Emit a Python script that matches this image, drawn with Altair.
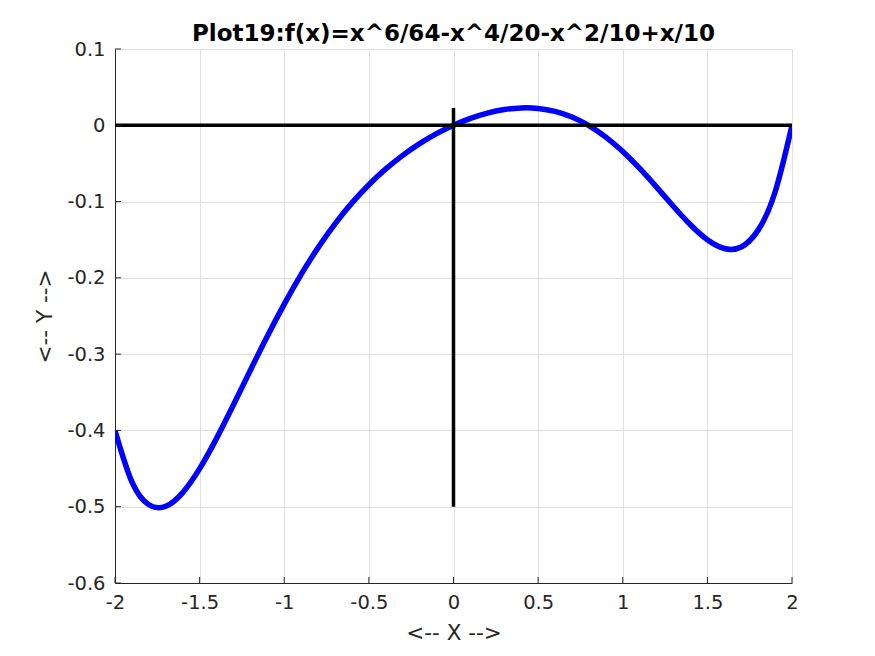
import altair as alt
import pandas as pd

# curve samples (x step 0.1)
xs = [-2.0, -1.9, -1.8, -1.7, -1.6, -1.5, -1.4, -1.3, -1.2, -1.1, -1.0,
      -0.9, -0.8, -0.7, -0.6, -0.5, -0.4, -0.3, -0.2, -0.1, 0.0,
      0.1, 0.2, 0.3, 0.4, 0.5, 0.6, 0.7, 0.8, 0.9, 1.0,
      1.1, 1.2, 1.3, 1.4, 1.5, 1.6, 1.7, 1.8, 1.9, 2.0]
ys = [-0.4, -0.467513, -0.497439, -0.499462, -0.481536, -0.450146, -0.410431,
      -0.366386, -0.321024, -0.276524, -0.234375,
      -0.195501, -0.160384, -0.129167, -0.101751, -0.077881, -0.057216,
      -0.039394, -0.024079, -0.011005, 0.0,
      0.008995, 0.015921, 0.020606, 0.022784, 0.022119, 0.018249, 0.010833,
      -0.000384, -0.015501, -0.034375,
      -0.056524, -0.081024, -0.106386, -0.130431, -0.150146, -0.161536,
      -0.159462, -0.137439, -0.087513, 0.0]

# black reference axes
hx = [-2, 2]
hy = [0, 0]
vx = [0, 0]
vy = [-0.5, 0.0228]

x_ticks = [-2, -1.5, -1, -0.5, 0, 0.5, 1, 1.5, 2]
y_ticks = [-0.6, -0.5, -0.4, -0.3, -0.2, -0.1, 0, 0.1]

W, H = 677, 534

curve = pd.DataFrame({"x": xs, "y": ys})
hline = pd.DataFrame({"x": hx, "y": hy})
vline = pd.DataFrame({"x": vx, "y": vy})
xt = pd.DataFrame({"t": x_ticks})
yt = pd.DataFrame({"t": y_ticks})

label_expr = "datum.value < 0 ? '-' + format(abs(datum.value), '~g') : format(datum.value, '~g')"

xscale = alt.Scale(domain=[-2, 2], nice=False, zero=False)
yscale = alt.Scale(domain=[-0.6, 0.1], nice=False, zero=False)

xaxis = alt.Axis(values=x_ticks, labelExpr=label_expr, title="<-- X -->",
                 grid=True, gridColor="#dfdfdf", gridWidth=1,
                 tickSize=0, labelPadding=10, labelFontSize=19.5,
                 labelColor="#262626", labelFont="DejaVu Sans",
                 titleFont="DejaVu Sans", titleFontSize=21.5, titleFontWeight="normal",
                 titleColor="#262626", titlePadding=11,
                 domainColor="#262626", domainWidth=1, labelFlush=False)
yaxis = alt.Axis(values=y_ticks, labelExpr=label_expr, title="<-- Y -->",
                 grid=True, gridColor="#dfdfdf", gridWidth=1,
                 tickSize=0, labelPadding=10, labelFontSize=19.5,
                 labelColor="#262626", labelFont="DejaVu Sans",
                 titleFont="DejaVu Sans", titleFontSize=21.5, titleFontWeight="normal",
                 titleColor="#262626", titlePadding=10,
                 domainColor="#262626", domainWidth=1, labelFlush=False)

base_curve = alt.Chart(curve).mark_line(
    color="#0000ff", strokeWidth=5.5, interpolate="natural", clip=True
).encode(
    x=alt.X("x:Q", scale=xscale, axis=xaxis),
    y=alt.Y("y:Q", scale=yscale, axis=yaxis),
)

h_chart = alt.Chart(hline).mark_line(color="black", strokeWidth=3.5).encode(
    x=alt.X("x:Q", scale=xscale), y=alt.Y("y:Q", scale=yscale))
v_chart = alt.Chart(vline).mark_line(color="black", strokeWidth=3.5).encode(
    x=alt.X("x:Q", scale=xscale), y=alt.Y("y:Q", scale=yscale))

xtick_chart = alt.Chart(xt).mark_rule(color="#262626", strokeWidth=1).encode(
    x=alt.X("t:Q", scale=xscale), y=alt.value(H), y2=alt.value(H - 6))
ytick_chart = alt.Chart(yt).mark_rule(color="#262626", strokeWidth=1).encode(
    y=alt.Y("t:Q", scale=yscale), x=alt.value(0), x2=alt.value(6))

chart = alt.layer(base_curve, h_chart, v_chart, xtick_chart, ytick_chart).properties(
    width=W, height=H,
    title=alt.TitleParams("Plot19:f(x)=x^6/64-x^4/20-x^2/10+x/10",
                          font="DejaVu Sans", fontSize=23, fontWeight="bold",
                          color="black", anchor="middle", baseline="bottom",
                          frame="group", offset=4, dy=34),
    autosize=alt.AutoSizeParams(type="none"),
    padding={"left": 107, "top": 41, "right": 75, "bottom": 72},
).configure_view(stroke=None).configure(background="white")

chart.save("out.html", embed_options={"renderer": "svg", "actions": False})
